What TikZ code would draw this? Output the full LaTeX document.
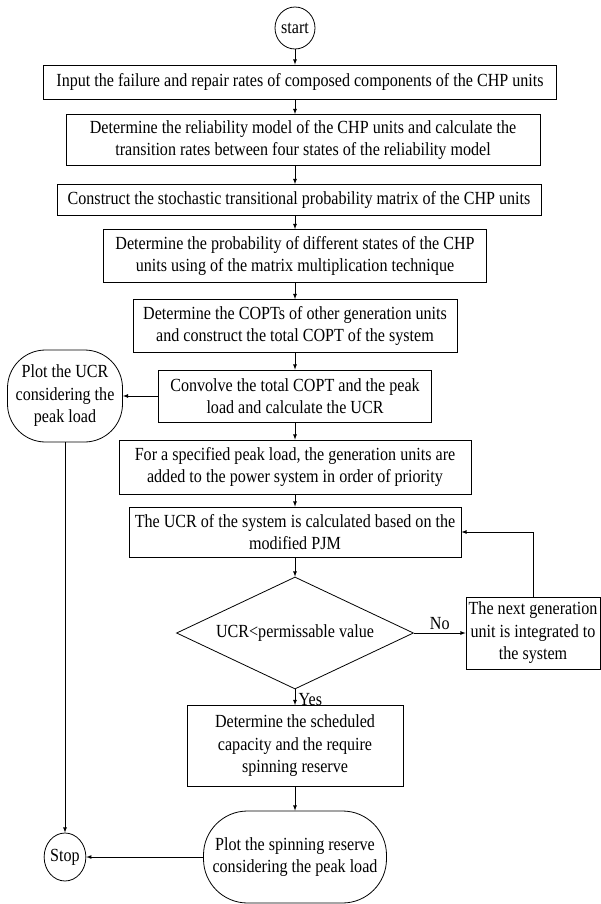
\documentclass[tikz,border=0pt]{standalone}
\usepackage{fontspec}
\setmainfont{Liberation Serif}[FakeStretch=0.87]
\usetikzlibrary{arrows,shapes.geometric,positioning}

\tikzset{
  procbox/.style={draw,rectangle,align=center,inner sep=1pt,line width=0.8pt},
  termbox/.style={draw,rectangle,rounded corners=#1,align=center,inner sep=1pt,line width=0.8pt},
  endbox/.style={draw,ellipse,inner sep=0pt,line width=0.8pt},
  decision/.style={draw,diamond,aspect=2.1,inner sep=0pt,line width=0.8pt},
  flow/.style={->,>=latex,line width=0.8pt}
}

\begin{document}
\begin{tikzpicture}[x=1pt,y=-1pt,font=\fontsize{18.5}{22.5}\selectfont]
\useasboundingbox (0,0) rectangle (601,904);

% main column
\node[endbox,minimum width=40pt,minimum height=42pt] (start) at (295,28) {start};
\node[procbox,minimum width=513pt,minimum height=34pt] (inp) at (300,82)
  {Input the failure and repair rates of composed components of the CHP units};
\node[procbox,minimum width=474pt,minimum height=51pt] (relmod) at (303,140)
  {Determine the reliability model of the CHP units and calculate the\\transition rates between four states of the reliability model};
\node[procbox,minimum width=484pt,minimum height=31pt] (stmat) at (299,200)
  {Construct the stochastic transitional probability matrix of the CHP units};
\node[procbox,minimum width=383pt,minimum height=53pt] (prob) at (295,256)
  {Determine the probability of different states of the CHP\\units using of the matrix multiplication technique};
\node[procbox,minimum width=324pt,minimum height=53pt] (copt) at (295,326)
  {Determine the COPTs of other generation units\\and construct the total COPT of the system};
\node[procbox,minimum width=273pt,minimum height=52pt] (conv) at (295,396)
  {Convolve the total COPT and the peak\\load and calculate the UCR};
\node[procbox,minimum width=352pt,minimum height=54pt] (prio) at (295,467)
  {For a specified peak load, the generation units are\\added to the power system in order of priority};
\node[procbox,minimum width=332pt,minimum height=50pt] (ucrcalc) at (295,532)
  {The UCR of the system is calculated based on the\\modified PJM};
\node[decision,minimum width=237pt,minimum height=112pt] (check) at (295,633)
  {UCR<permissable value};
\node[procbox,minimum width=134pt,minimum height=72pt] (nextunit) at (533,633)
  {The next generation\\unit is integrated to\\the system};
\node[procbox,minimum width=216pt,minimum height=81pt] (sched) at (295,746)
  {Determine the scheduled\\capacity and the require\\spinning reserve};
\node[termbox=44pt,minimum width=183pt,minimum height=92pt] (plotsr) at (295,857)
  {Plot the spinning reserve\\considering the peak load};

% left column
\node[termbox=38pt,minimum width=115pt,minimum height=92pt] (plotucr) at (65,396)
  {Plot the UCR\\considering the\\peak load};
\node[endbox,minimum width=40pt,minimum height=48pt] (stop) at (65,857) {Stop};

% connectors
\foreach \a/\b in {start/inp,inp/relmod,relmod/stmat,stmat/prob,prob/copt,copt/conv,conv/prio,prio/ucrcalc,ucrcalc/check}
  \draw[flow] (\a.south -| start) -- (\b.north -| start);
\draw[flow] (check.south) -- node[right,yshift=-2pt]{Yes} (sched.north);
\draw[flow] (sched.south) -- (plotsr.north);
\draw[flow] (check.east) -- node[above]{No} (nextunit.west);
\draw[flow] (nextunit.north) |- (ucrcalc.east);
\draw[flow] (conv.west) -- (plotucr.east);
\draw[flow] (plotucr.south) -- (stop.north);
\draw[flow] (plotsr.west) -- (stop.east);
\end{tikzpicture}
\end{document}
